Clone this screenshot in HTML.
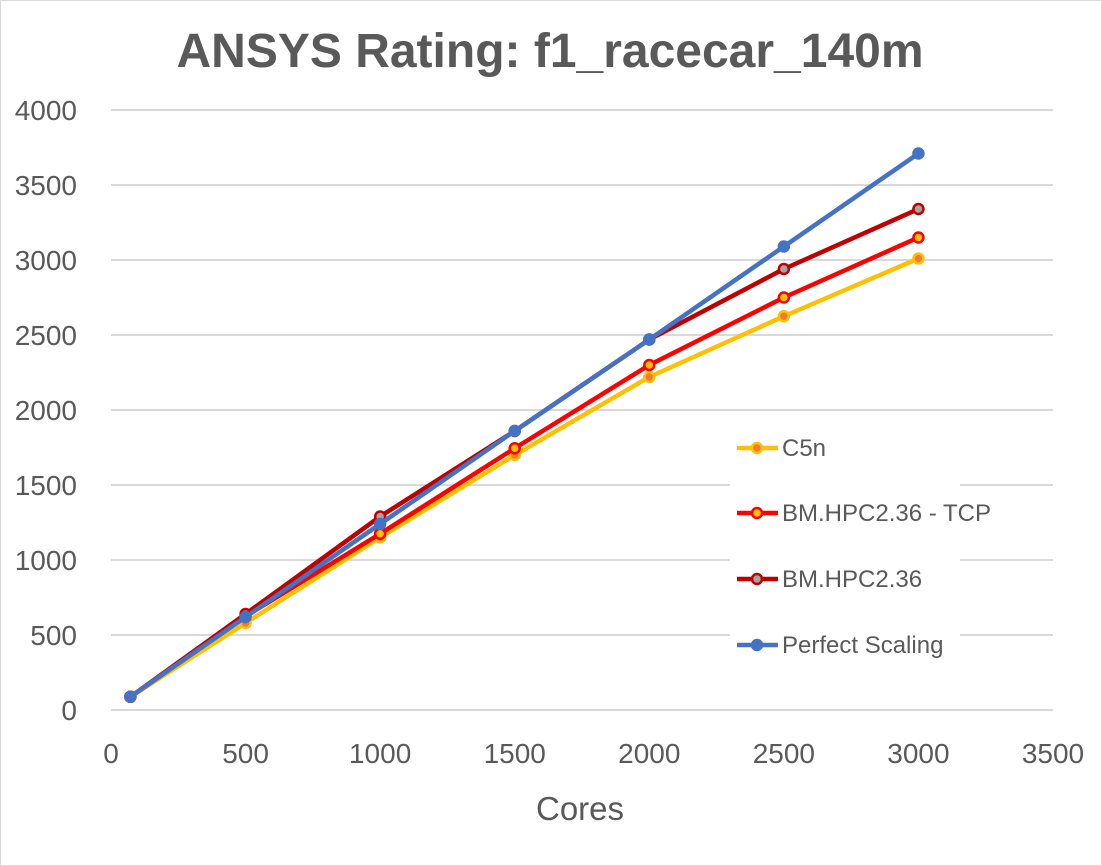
<!DOCTYPE html>
<html><head><meta charset="utf-8"><style>
body{margin:0;background:#fff;font-family:"Liberation Sans",sans-serif}
svg{display:block}
</style></head><body>
<svg id="chart" width="1102" height="866">
<rect x="0.5" y="0.5" width="1101" height="865" fill="#fff" stroke="#d9d9d9"/>
<text x="550" y="67" text-anchor="middle" font-size="48" font-weight="bold" fill="#595959">ANSYS Rating: f1_racecar_140m</text>
<g id="grid"></g><g id="axes"></g><g id="series"></g><g id="legend"></g>
<text x="580" y="820" text-anchor="middle" font-size="33" fill="#595959">Cores</text>
</svg>
<script>
const cores=[72,500,1000,1500,2000,2500,3000];
const c5n=[88,580,1150,1700,2220,2625,3010];
const tcp=[88,625,1175,1745,2300,2750,3150];
const bm=[88,640,1290,1860,2470,2940,3340];
const perfect=[88,620,1240,1860,2470,3090,3710];
const xTicks=[0,500,1000,1500,2000,2500,3000,3500];
const yTicks=[0,500,1000,1500,2000,2500,3000,3500,4000];
const names=["C5n","BM.HPC2.36 - TCP","BM.HPC2.36","Perfect Scaling"];
const NS="http://www.w3.org/2000/svg";
const X=v=>111+v*(1053-111)/3500;
const Y=v=>710-v*600/4000;
function mk(tag,attrs,parent){const e=document.createElementNS(NS,tag);for(const k in attrs)e.setAttribute(k,attrs[k]);parent.appendChild(e);return e;}
const grid=document.getElementById('grid'),axes=document.getElementById('axes'),ser=document.getElementById('series'),leg=document.getElementById('legend');
yTicks.forEach(t=>{
 const l=mk('line',{x1:X(0),x2:X(3500),y1:Y(t),y2:Y(t),stroke:'#d9d9d9','stroke-width':2},grid);
 
 
 const tx=mk('text',{x:77,y:Y(t)+10,'text-anchor':'end','font-size':28,fill:'#595959'},axes);tx.textContent=t;
 
 
});
xTicks.forEach(t=>{
 const tx=mk('text',{x:X(t),y:763,'text-anchor':'middle','font-size':28,fill:'#595959'},axes);tx.textContent=t;
 
 
});
const styles=[
 {d:c5n,c:'#FFC000',f:'#ED7D31'},
 {d:tcp,c:'#FF0000',f:'#FFC000'},
 {d:bm,c:'#C00000',f:'#A5A5A5'},
 {d:perfect,c:'#4472C4',f:'#4472C4'}];
styles.forEach((s,i)=>{
 const g=mk('g',{},ser);
 
 
 const p=mk('polyline',{points:cores.map((c,j)=>X(c)+','+Y(s.d[j])).join(' '),fill:'none',stroke:s.c,'stroke-width':4.5,'stroke-linejoin':'round'},g);
 
 
 cores.forEach((c,j)=>{
  const m=mk('circle',{cx:X(c),cy:Y(s.d[j]),r:5,fill:s.f,stroke:s.c,'stroke-width':2.5},g);
  
  
 });
});
const bg=mk('rect',{x:730,y:432,width:230,height:232,fill:'#fff'},leg);


const ly=[448,513,579,645];
styles.forEach((s,i)=>{
 const g=mk('g',{},leg);
 
 
 mk('line',{x1:737,x2:778,y1:ly[i],y2:ly[i],stroke:s.c,'stroke-width':4.5},g);
 mk('circle',{cx:757,cy:ly[i],r:5,fill:s.f,stroke:s.c,'stroke-width':2.5},g);
 const t=mk('text',{x:782,y:ly[i]+8,'font-size':24,fill:'#595959'},g);t.textContent=names[i];
});
</script>
</body></html>
